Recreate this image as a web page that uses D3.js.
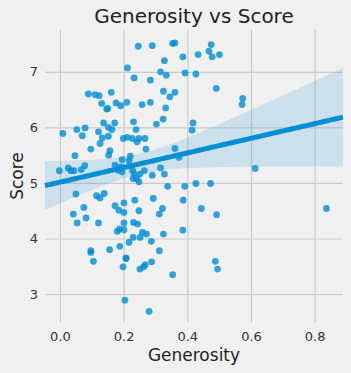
<!DOCTYPE html>
<html>
<head>
<meta charset="utf-8">
<script src="https://cdn.jsdelivr.net/npm/d3@7"></script>
<style>
  html, body { margin: 0; padding: 0; background: #f0f0f0; }
  svg { display: block; font-family: "DejaVu Sans", sans-serif; }
</style>
</head>
<body>
<div id="chart"></div>
<script>
// generosity / score pairs
const generosity = [
  0.246, 0.290, 0.354, 0.361, 0.475, 0.468, 0.478, 0.501, 0.434, 0.386,
  0.328, 0.212, 0.316, 0.334, 0.393, 0.427, 0.233, 0.284, 0.491, 0.089,
  0.110, 0.123, 0.161, 0.325, 0.361, 0.345, 0.574, 0.572, 0.131, 0.176,
  0.191, 0.210, 0.258, 0.284, 0.147, 0.150, 0.332, 0.324, 0.303, 0.231,
  0.172, 0.137, 0.418, 0.053, 0.079, 0.121, 0.152, 0.163, 0.239, 0.415,
  0.009, 0.070, 0.133, 0.126, 0.152, 0.199, 0.211, 0.227, 0.242, 0.248,
  0.267, 0.270, 0.097, 0.047, 0.157, 0.153, 0.195, 0.221, 0.217, 0.361,
  0.374, -0.002, 0.026, 0.034, 0.044, 0.067, 0.078, 0.173, 0.183, 0.195,
  0.191, 0.228, 0.233, 0.251, 0.241, 0.230, 0.248, 0.265, 0.290, 0.316,
  0.328, 0.338, 0.392, 0.427, 0.473, 0.613, 0.050, 0.115, 0.126, 0.139,
  0.235, 0.293, 0.387, 0.201, 0.173, 0.185, 0.201, 0.248, 0.322, 0.312,
  0.075, 0.042, 0.082, 0.054, 0.121, 0.201, 0.231, 0.244, 0.444, 0.492,
  0.837, 0.386, 0.325, 0.259, 0.272, 0.252, 0.230, 0.287, 0.217, 0.180,
  0.187, 0.201, 0.097, 0.097, 0.156, 0.188, 0.105, 0.312, 0.207, 0.208,
  0.288, 0.268, 0.263, 0.251, 0.198, 0.354, 0.204, 0.280, 0.488, 0.495
];
const score = [
  7.46, 7.47, 7.51, 7.52, 7.49, 7.37, 7.27, 7.31, 7.31, 7.27,
  7.20, 7.07, 7.00, 6.94, 6.98, 6.96, 6.89, 6.85, 6.70, 6.60,
  6.59, 6.57, 6.63, 6.65, 6.63, 6.55, 6.52, 6.41, 6.43, 6.44,
  6.39, 6.45, 6.41, 6.45, 6.33, 6.34, 6.35, 6.15, 6.06, 6.10,
  6.08, 6.08, 6.08, 5.96, 5.99, 5.92, 6.00, 5.96, 5.96, 5.95,
  5.89, 5.85, 5.81, 5.71, 5.84, 5.80, 5.82, 5.80, 5.74, 5.80,
  5.80, 5.61, 5.61, 5.49, 5.58, 5.50, 5.42, 5.48, 5.40, 5.62,
  5.46, 5.22, 5.27, 5.22, 5.22, 5.24, 5.31, 5.32, 5.23, 5.20,
  5.29, 5.23, 5.16, 5.16, 5.08, 5.08, 5.02, 5.22, 5.14, 5.27,
  5.16, 4.94, 4.94, 4.99, 4.99, 5.26, 4.80, 4.77, 4.73, 4.81,
  4.69, 4.72, 4.69, 4.64, 4.59, 4.51, 4.47, 4.50, 4.54, 4.44,
  4.56, 4.44, 4.37, 4.28, 4.28, 4.28, 4.29, 4.26, 4.54, 4.43,
  4.54, 4.15, 4.08, 4.11, 4.08, 4.02, 4.02, 3.95, 3.93, 4.13,
  4.17, 4.16, 3.78, 3.75, 3.80, 3.86, 3.59, 3.78, 3.65, 3.64,
  3.58, 3.53, 3.49, 3.45, 3.49, 3.35, 2.89, 2.69, 3.59, 3.45
];
const xTicks = [0.0, 0.2, 0.4, 0.6, 0.8];
const yTicks = [3, 4, 5, 6, 7];
const xDomain = [-0.047, 0.889];
const yDomain = [2.48, 7.77];

const W = 351, H = 373;
const margin = { top: 29, right: 8, bottom: 50, left: 45 };
const width = W - margin.left - margin.right;
const height = H - margin.top - margin.bottom;
const blue = "#008fd5";

const svg = d3.select("#chart").append("svg")
    .attr("width", W)
    .attr("height", H);

svg.append("rect").attr("width", W).attr("height", H).attr("fill", "#f0f0f0");

const g = svg.append("g")
    .attr("transform", `translate(${margin.left},${margin.top})`);

const x = d3.scaleLinear().domain(xDomain).range([0, width]);
const y = d3.scaleLinear().domain(yDomain).range([height, 0]);

// grid + tick labels
const xAxis = g.append("g")
    .attr("transform", `translate(0,${height})`)
    .call(d3.axisBottom(x).tickValues(xTicks).tickFormat(d3.format(".1f"))
        .tickSize(-height).tickPadding(9));
const yAxis = g.append("g")
    .call(d3.axisLeft(y).tickValues(yTicks).tickFormat(d3.format("d"))
        .tickSize(-width).tickPadding(7));

[xAxis, yAxis].forEach(a => {
    a.select(".domain").remove();
    a.selectAll(".tick line").attr("stroke", "#cbcbcb").attr("stroke-width", 1.2);
    a.selectAll(".tick text")
        .attr("fill", "#333")
        .style("font-size", "13px")
        .style("font-family", "DejaVu Sans");
});

// linear fit with 95% band
const n = generosity.length;
const mx = d3.mean(generosity), my = d3.mean(score);
let sxx = 0, sxy = 0;
for (let i = 0; i < n; i++) {
    sxx += (generosity[i] - mx) ** 2;
    sxy += (generosity[i] - mx) * (score[i] - my);
}
const slope = sxy / sxx;
const intercept = my - slope * mx;
let sse = 0;
for (let i = 0; i < n; i++) sse += (score[i] - intercept - slope * generosity[i]) ** 2;
const s = Math.sqrt(sse / (n - 2));
const tcrit = 1.976;

const grid = d3.range(0, 101).map(i => xDomain[0] + (xDomain[1] - xDomain[0]) * i / 100);
const fit = grid.map(v => {
    const yh = intercept + slope * v;
    const se = s * Math.sqrt(1 / n + (v - mx) ** 2 / sxx);
    return { x: v, y: yh, lo: yh - tcrit * se, hi: yh + tcrit * se };
});

g.append("path")
    .datum(fit)
    .attr("fill", blue)
    .attr("fill-opacity", 0.15)
    .attr("d", d3.area().x(d => x(d.x)).y0(d => y(d.lo)).y1(d => y(d.hi)));

// points
g.append("g")
    .selectAll("circle")
    .data(d3.zip(generosity, score))
    .join("circle")
    .attr("cx", d => x(d[0]))
    .attr("cy", d => y(d[1]))
    .attr("r", 3.4)
    .attr("fill", blue)
    .attr("fill-opacity", 0.8);

g.append("path")
    .datum(fit)
    .attr("fill", "none")
    .attr("stroke", blue)
    .attr("stroke-width", 5)
    .attr("d", d3.line().x(d => x(d.x)).y(d => y(d.y)));

// texts
svg.append("text")
    .attr("x", margin.left + width / 2)
    .attr("y", 23)
    .attr("text-anchor", "middle")
    .attr("fill", "#222")
    .style("font-size", "20px")
    .text("Generosity vs Score");

svg.append("text")
    .attr("x", margin.left + width / 2)
    .attr("y", 361)
    .attr("text-anchor", "middle")
    .attr("fill", "#222")
    .style("font-size", "17px")
    .text("Generosity");

svg.append("text")
    .attr("transform", `translate(23,${margin.top + height / 2}) rotate(-90)`)
    .attr("text-anchor", "middle")
    .attr("fill", "#222")
    .style("font-size", "17px")
    .text("Score");
</script>
</body>
</html>
